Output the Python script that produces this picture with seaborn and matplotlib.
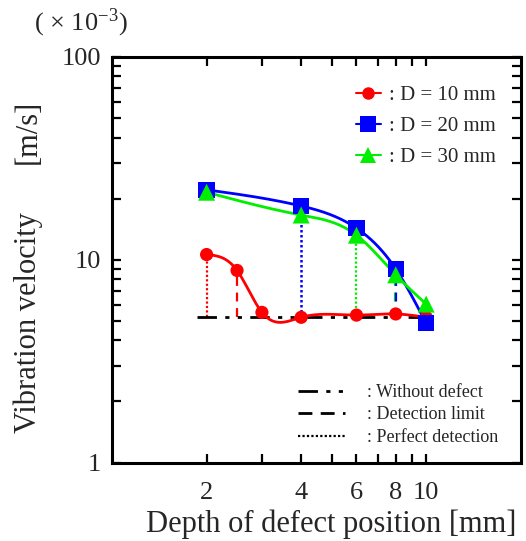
import numpy as np
import matplotlib
matplotlib.use("Agg")
import matplotlib.pyplot as plt
import seaborn as sns
from matplotlib.lines import Line2D
from matplotlib.ticker import FixedLocator, LogLocator, NullFormatter, FixedFormatter

# Measured vibration velocity (x 10^-3 m/s) against defect depth
depth_10 = [2, 2.5, 3, 4, 6, 8, 10]
vel_10 = [10.6, 8.85, 5.5, 5.2, 5.33, 5.4, 5.2]
depth_20 = [2, 4, 6, 8, 10]
vel_20 = [22.1, 18.4, 14.3, 9.0, 4.86]
depth_30 = [2, 4, 6, 8, 10]
vel_30 = [21.5, 16.6, 13.2, 8.42, 6.04]

baseline = 5.2          # level without defect
baseline_span = [1.87, 10.0]

series_labels = [": D = 10 mm", ": D = 20 mm", ": D = 30 mm"]
series_colors = ["#ff0000", "#0000ff", "#00ee00"]
series_markers = ["o", "s", "^"]
x_ticks = [2, 4, 6, 8, 10]
y_ticks = [1, 10, 100]
style_labels = [": Without defect", ": Detection limit", ": Perfect detection"]

sns.set_style("ticks")
plt.rcParams["font.family"] = ["Liberation Serif", "DejaVu Serif"]
plt.rcParams["mathtext.fontset"] = "stix"


def natural_spline(x, y, xs):
    x = np.asarray(x, float)
    y = np.asarray(y, float)
    n = len(x)
    h = np.diff(x)
    A = np.zeros((n, n))
    r = np.zeros(n)
    A[0, 0] = A[-1, -1] = 1.0
    for i in range(1, n - 1):
        A[i, i - 1] = h[i - 1]
        A[i, i] = 2 * (h[i - 1] + h[i])
        A[i, i + 1] = h[i]
        r[i] = 3 * ((y[i + 1] - y[i]) / h[i] - (y[i] - y[i - 1]) / h[i - 1])
    c = np.linalg.solve(A, r)
    b = (y[1:] - y[:-1]) / h - h * (2 * c[:-1] + c[1:]) / 3
    d = (c[1:] - c[:-1]) / (3 * h)
    idx = np.clip(np.searchsorted(x, xs) - 1, 0, n - 2)
    t = xs - x[idx]
    return y[idx] + b[idx] * t + c[idx] * t ** 2 + d[idx] * t ** 3


def smooth(xd, yd):
    lx = np.log10(xd)
    fine = np.linspace(lx[0], lx[-1], 300)
    return 10 ** fine, 10 ** natural_spline(lx, np.log10(yd), fine)


fig = plt.figure(figsize=(5.26, 5.41), dpi=100)
ax = fig.add_axes([0.213, 0.145, 0.777, 0.750])
ax.set_xscale("log")
ax.set_yscale("log")

# baseline without defect
ax.plot(baseline_span, [baseline, baseline], color="black", lw=2,
        ls=(0, (7, 3, 1.5, 3, 1.5, 3)), zorder=2)

# detection marks down to the baseline
ax.vlines(depth_10[0], baseline, vel_10[0], colors=series_colors[0], ls=(0, (1, 1)), lw=1.6, zorder=1)
ax.vlines(depth_10[1], baseline, vel_10[1], colors=series_colors[0], ls=(0, (4, 3)), lw=1.6, zorder=1)
ax.vlines(depth_20[1], baseline, vel_20[1], colors=series_colors[1], ls=(0, (1, 1)), lw=1.8, zorder=1)
ax.vlines(depth_30[2], baseline, vel_30[2], colors=series_colors[2], ls=(0, (1, 1)), lw=1.6, zorder=1)
ax.vlines(depth_30[3] * 0.995, baseline, vel_30[3], colors=series_colors[2], ls=(0, (4, 3)), lw=1.6, zorder=1)
ax.vlines(depth_20[3], baseline, vel_20[3], colors=series_colors[1], ls=(0, (4, 3)), lw=1.6, zorder=1)

data = [(depth_10, vel_10), (depth_20, vel_20), (depth_30, vel_30)]
sizes = [90, 140, 150]
for k in range(3):
    xd, yd = data[k]
    xs, ys = smooth(xd, yd)
    sns.lineplot(x=xs, y=ys, ax=ax, color=series_colors[k], lw=2, sort=False,
                 estimator=None, zorder=3)
for k in [1, 0, 2]:
    xd, yd = data[k]
    sns.scatterplot(x=xd, y=yd, ax=ax, color=series_colors[k], marker=series_markers[k],
                    s=sizes[k], edgecolor="none", zorder=4 + k)

ax.set_xlim(1, 20)
ax.set_ylim(1, 100)

ax.xaxis.set_major_locator(FixedLocator(x_ticks))
ax.xaxis.set_major_formatter(FixedFormatter([str(v) for v in x_ticks]))
ax.xaxis.set_minor_locator(FixedLocator([3, 5, 7, 9]))
ax.xaxis.set_minor_formatter(NullFormatter())
ax.yaxis.set_major_locator(FixedLocator(y_ticks))
ax.yaxis.set_major_formatter(FixedFormatter([str(v) for v in y_ticks]))
ax.yaxis.set_minor_locator(LogLocator(base=10, subs=np.arange(2, 10), numticks=20))
ax.yaxis.set_minor_formatter(NullFormatter())

for s in ax.spines.values():
    s.set_visible(True)
    s.set_linewidth(2.2)
    s.set_color("black")
ax.tick_params(which="both", direction="in", top=True, right=True,
               width=1.6, color="black", labelsize=19, length=6.5)
ax.tick_params(axis="x", which="both", pad=14)
ax.tick_params(axis="y", which="both", pad=8)

ax.set_xlabel("Depth of defect position [mm]", fontsize=22, va="center")
ax.xaxis.set_label_coords(0.535, -0.153)
ax.set_ylabel("Vibration velocity", fontsize=22, va="center")
ax.yaxis.set_label_coords(-0.205, 0.345)
ax.text(-0.205, 0.815, "[m/s]", transform=ax.transAxes, rotation=90,
        fontsize=22, ha="center", va="center")
fig.text(0.065, 0.958, r"( × 10$^{\mathregular{-3}}$)", fontsize=19, ha="left", va="center")

# series legend
h1 = [Line2D([], [], color=c, marker=m, lw=1.5, markersize=ms, markeredgewidth=0)
      for c, m, ms in zip(series_colors, series_markers, [9, 12, 12])]
leg1 = ax.legend(h1, series_labels, loc="upper right", bbox_to_anchor=(0.975, 0.965),
                 frameon=False, fontsize=15, handlelength=1.2, handletextpad=0.4,
                 labelspacing=0.55, borderaxespad=0.3)
ax.add_artist(leg1)

# line-style legend
h2 = [Line2D([], [], color="black", lw=2, ls=(0, (7, 3, 1.5, 3, 1.5, 3))),
      Line2D([], [], color="black", lw=2, ls=(0, (5, 3))),
      Line2D([], [], color="black", lw=1.6, ls=(0, (1, 1)))]
ax.legend(h2, style_labels, loc="lower right", bbox_to_anchor=(0.975, 0.01),
          frameon=False, fontsize=13, handlelength=2.6, handletextpad=1.2,
          labelspacing=0.3, borderaxespad=0.3)

fig.savefig("out.png", dpi=100)
